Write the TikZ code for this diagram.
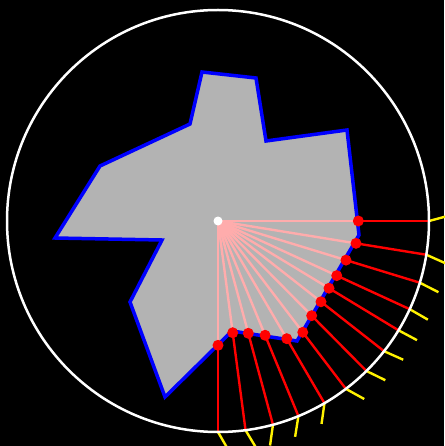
\documentclass[tikz,border=0pt]{standalone}
\usepackage{xcolor}
\usepackage{tikz}
\usetikzlibrary{calc}
\definecolor{shapegray}{RGB}{179,179,179}
\definecolor{raypink}{RGB}{255,172,172}

\begin{document}
\begin{tikzpicture}[x=1pt,y=-1pt,
    hitdot/.style={circle,fill=red,inner sep=0pt,minimum size=11pt},
    srcdot/.style={circle,fill=white,inner sep=0pt,minimum size=9pt},
    inray/.style={raypink,line width=2.4pt},
    outray/.style={red,line width=2.4pt},
    normtick/.style={yellow,line width=2.4pt}]
      \fill[black](0,0) rectangle (444,446);
      \useasboundingbox (0,0) rectangle (444,446);
      \coordinate (o) at (218,221);
      \filldraw[fill=shapegray,draw=blue,line width=3.5pt]
        (202,72)--(256,78)--(266,141)--(347,130)--(359,235)--(297,341)--(232,331)
        --(165,397)--(130,302)--(162,240)--(55,238)--(100,166)--(190,124)--cycle;
      \foreach \a/\d/\t [count=\i] in {0/140.3/-15,9.2/139.8/24,17/133.8/27,24.7/130.7/30,
          31.2/129.8/28,38.1/130.9/24,45.3/133.2/26,52.7/139.9/29,59.7/136.3/98,
          67.6/123.6/99,74.9/116.3/98,82.5/112.7/59,90/124.3/60}{
        \coordinate (p\i) at ($(o)+(\a:\d)$);
        \coordinate (c\i) at ($(o)+(\a:211)$);
        \coordinate (t\i) at ($(c\i)+(\t:21)$);
        \draw[inray](o)--(p\i);
        \draw[outray](p\i)--(c\i);
        \draw[normtick](c\i)--(t\i);}
      \draw[white,line width=2.5pt](o) circle (211);
      \foreach \i in {1,...,13}{\node[hitdot](hit\i) at (p\i){};}
      \node[srcdot](src) at (o){};
    \end{tikzpicture}
\end{document}
